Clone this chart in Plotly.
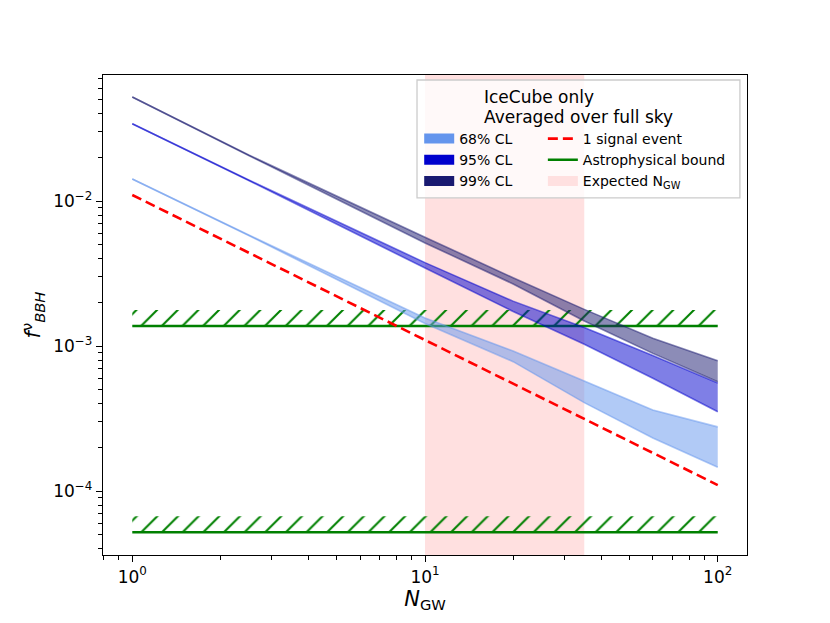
import plotly.graph_objects as go

# number of GW events
n_gw = [1, 2.5, 10, 20, 35, 60, 100]

# upper limits on f_BBH (upper / lower edge of each band)
cl99_hi = [5.21e-2, 2.075e-2, 5.63e-3, 2.96e-3, 1.79e-3, 1.13e-3, 7.93e-4]
cl99_lo = [5.21e-2, 2.06e-2, 5.14e-3, 2.68e-3, 1.49e-3, 8.9e-4, 5.68e-4]
cl95_hi = [3.41e-2, 1.396e-2, 3.76e-3, 2.04e-3, 1.34e-3, 8.6e-4, 5.56e-4]
cl95_lo = [3.41e-2, 1.385e-2, 3.45e-3, 1.73e-3, 1.03e-3, 6.0e-4, 3.52e-4]
cl68_hi = [1.42e-2, 5.83e-3, 1.56e-3, 9.25e-4, 5.75e-4, 3.62e-4, 2.77e-4]
cl68_lo = [1.42e-2, 5.78e-3, 1.43e-3, 7.8e-4, 4.07e-4, 2.32e-4, 1.46e-4]

# 1 signal event line
sig_x = [1, 100]
sig_y = [1.1e-2, 1.1e-4]

# astrophysical bounds (line, top of hatch)
astro_x = [1, 100]
astro_bounds = [1.375e-3, 5.2e-5]
hatch_factor = 1.29

# expected N_GW range
exp_lo, exp_hi = 10, 35

font = "DejaVu Sans"
fig = go.Figure()

fig.add_vrect(x0=exp_lo, x1=exp_hi, fillcolor="rgba(255,0,0,0.12)", line_width=0, layer="below")

# hatched astrophysical bounds
for b in astro_bounds:
    fig.add_trace(go.Scatter(x=astro_x, y=[b, b], mode="lines", line=dict(width=0),
                             showlegend=False, hoverinfo="skip"))
    fig.add_trace(go.Scatter(x=astro_x, y=[b * hatch_factor] * 2, mode="lines", line=dict(width=0),
                             fill="tonexty", fillcolor="rgba(0,0,0,0)",
                             fillpattern=dict(shape="/", fgcolor="green", bgcolor="rgba(0,0,0,0)",
                                              fgopacity=1, size=14.6, solidity=0.14),
                             showlegend=False, hoverinfo="skip"))
    fig.add_trace(go.Scatter(x=astro_x, y=[b, b], mode="lines", line=dict(color="green", width=2.6),
                             showlegend=False))

bands = [
    (cl68_lo, cl68_hi, "rgba(100,149,237,0.5)"),
    (cl95_lo, cl95_hi, "rgba(0,0,205,0.5)"),
    (cl99_lo, cl99_hi, "rgba(25,25,112,0.5)"),
]
for lo, hi, col in bands:
    fig.add_trace(go.Scatter(x=n_gw, y=lo, mode="lines", line=dict(color=col, width=1.6),
                             showlegend=False))
    fig.add_trace(go.Scatter(x=n_gw, y=hi, mode="lines", line=dict(color=col, width=1.6),
                             fill="tonexty", fillcolor=col, showlegend=False))

fig.add_trace(go.Scatter(x=sig_x, y=sig_y, mode="lines",
                         line=dict(color="red", width=2.6, dash="10px,5px"), showlegend=False))

# legend entries (thick lines give the patch-like swatches)
col1 = [("68% CL", "#6495ED"), ("95% CL", "#0000CD"), ("99% CL", "#191970")]
for name, c in col1:
    fig.add_trace(go.Scatter(x=[None], y=[None], mode="lines", line=dict(width=10, color=c),
                             name=name, legend="legend"))
fig.add_trace(go.Scatter(x=[None], y=[None], mode="lines", name="1 signal event",
                         line=dict(color="red", width=2.6, dash="10px,5px"), legend="legend2"))
fig.add_trace(go.Scatter(x=[None], y=[None], mode="lines", name="Astrophysical bound",
                         line=dict(color="green", width=2.6), legend="legend2"))
fig.add_trace(go.Scatter(x=[None], y=[None], mode="lines", line=dict(width=10, color="#ffe0e0"),
                         name="Expected N<sub>GW</sub>", legend="legend2"))

leg = dict(bgcolor="rgba(0,0,0,0)", borderwidth=0, font=dict(family=font, size=14, color="black"),
           yanchor="top", xanchor="left", traceorder="normal", itemclick=False)
fig.update_layout(
    legend=dict(leg, x=0.491, y=0.9),
    legend2=dict(leg, x=0.683, y=0.9),
)

# legend frame and title
fig.add_shape(type="rect", xref="paper", yref="paper", x0=0.4876, x1=0.989, y0=0.744, y1=0.9896,
              fillcolor="rgba(255,255,255,0.8)", line=dict(color="#cccccc", width=1.3), layer="above")
for txt, ty in [("IceCube only", 0.954), ("Averaged over full sky", 0.9125)]:
    fig.add_annotation(text=txt, xref="paper", yref="paper", x=0.589, y=ty, xanchor="left",
                       yanchor="middle", showarrow=False, font=dict(family=font, size=17, color="black"))

x_minor = [0.8, 0.9] + [k for k in range(2, 10)] + [k * 10 for k in range(2, 10)]
y_minor = [k * 1e-5 for k in range(4, 10)] + [k * 1e-4 for k in range(2, 10)] + \
          [k * 1e-3 for k in range(2, 10)] + [k * 1e-2 for k in range(2, 8)]

axis_common = dict(showline=True, linecolor="black", linewidth=1.4, mirror=True, ticks="outside",
                   ticklen=6, tickwidth=1.2, tickcolor="black", showgrid=False, zeroline=False,
                   tickfont=dict(family=font, size=17, color="black"))

fig.update_xaxes(type="log", range=[-0.1, 2.1], tickvals=[1, 10, 100],
                 ticktext=["10<sup>0</sup>", "10<sup>1</sup>", "10<sup>2</sup>"],
                 minor=dict(tickvals=x_minor, ticks="outside", ticklen=3.6, tickwidth=1, tickcolor="black"),
                 title=dict(text="<i>N</i><sub>GW</sub>", font=dict(family=font, size=21, color="black"),
                            standoff=4),
                 **axis_common)
fig.update_yaxes(type="log", range=[-4.441, -1.131], tickvals=[1e-4, 1e-3, 1e-2],
                 ticktext=["10<sup>\u22124</sup>", "10<sup>\u22123</sup>", "10<sup>\u22122</sup>"],
                 minor=dict(tickvals=y_minor, ticks="outside", ticklen=3.6, tickwidth=1, tickcolor="black"),
                 title=dict(text="<i>f</i><sup>\u03bd</sup><sub><i>BBH</i></sub>",
                            font=dict(family=font, size=21, color="black"), standoff=6),
                 **axis_common)

# the page body adds an 8px offset, so margins are shifted to compensate
fig.update_layout(width=830, height=623, margin=dict(l=95, r=91, t=67, b=76),
                  plot_bgcolor="white", paper_bgcolor="white", font=dict(family=font, color="black"))

fig.write_html("out.html")
